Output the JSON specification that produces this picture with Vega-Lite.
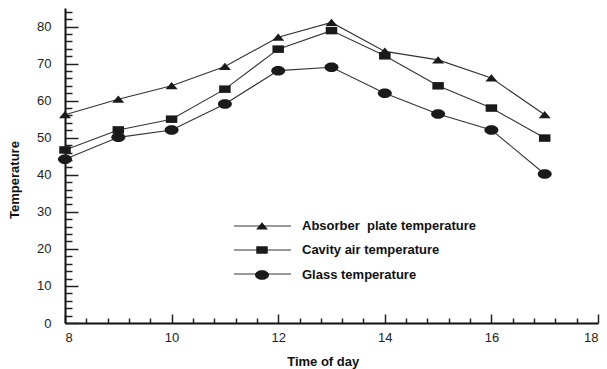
{
  "$schema": "https://vega.github.io/schema/vega-lite/v6.json",
  "width": 533,
  "height": 315,
  "autosize": "none",
  "padding": {"left": 65, "top": 8, "right": 9, "bottom": 46},
  "background": "white",
  "config": {
    "view": {"stroke": null},
    "font": "Liberation Sans",
    "axis": {"grid": false, "domainColor": "#111", "domainWidth": 2, "tickColor": "#222", "tickWidth": 1.5, "labelFont": "Liberation Sans", "labelFontSize": 13, "labelColor": "#222", "titleFont": "Liberation Sans", "titleFontSize": 13, "titleFontWeight": "bold", "titleColor": "#111"}
  },
  "data": {
    "values": [
      {"time": 8, "series": "Absorber\u00a0 plate temperature", "temp": 56.2},
      {"time": 9, "series": "Absorber\u00a0 plate temperature", "temp": 60.4},
      {"time": 10, "series": "Absorber\u00a0 plate temperature", "temp": 64},
      {"time": 11, "series": "Absorber\u00a0 plate temperature", "temp": 69.2},
      {"time": 12, "series": "Absorber\u00a0 plate temperature", "temp": 77.1},
      {"time": 13, "series": "Absorber\u00a0 plate temperature", "temp": 81.1},
      {"time": 14, "series": "Absorber\u00a0 plate temperature", "temp": 73.3},
      {"time": 15, "series": "Absorber\u00a0 plate temperature", "temp": 71},
      {"time": 16, "series": "Absorber\u00a0 plate temperature", "temp": 66.1},
      {"time": 17, "series": "Absorber\u00a0 plate temperature", "temp": 56.2},
      {"time": 8, "series": "Cavity air temperature", "temp": 46.7},
      {"time": 9, "series": "Cavity air temperature", "temp": 52.1},
      {"time": 10, "series": "Cavity air temperature", "temp": 55},
      {"time": 11, "series": "Cavity air temperature", "temp": 63.1},
      {"time": 12, "series": "Cavity air temperature", "temp": 73.9},
      {"time": 13, "series": "Cavity air temperature", "temp": 78.9},
      {"time": 14, "series": "Cavity air temperature", "temp": 72.1},
      {"time": 15, "series": "Cavity air temperature", "temp": 64},
      {"time": 16, "series": "Cavity air temperature", "temp": 58},
      {"time": 17, "series": "Cavity air temperature", "temp": 49.9},
      {"time": 8, "series": "Glass temperature", "temp": 44.2},
      {"time": 9, "series": "Glass temperature", "temp": 50.1},
      {"time": 10, "series": "Glass temperature", "temp": 52.1},
      {"time": 11, "series": "Glass temperature", "temp": 59.1},
      {"time": 12, "series": "Glass temperature", "temp": 68.1},
      {"time": 13, "series": "Glass temperature", "temp": 69},
      {"time": 14, "series": "Glass temperature", "temp": 62},
      {"time": 15, "series": "Glass temperature", "temp": 56.4},
      {"time": 16, "series": "Glass temperature", "temp": 52.1},
      {"time": 17, "series": "Glass temperature", "temp": 40.2}
    ]
  },
  "layer": [
    {
      "mark": {"type": "line", "strokeWidth": 1.1},
      "encoding": {
        "x": {"field": "time", "type": "quantitative", "scale": {"domain": [8, 18], "nice": false, "zero": false},
          "axis": {"orient": "top", "offset": -315, "values": [8, 10, 12, 14, 16, 18], "format": "d", "title": "Time of day", "tickSize": 9, "labelPadding": -23.7, "labelBaseline": "middle", "titleX": 257.7, "titleY": 38.4, "titleBaseline": "middle", "titleAlign": "center"}},
        "y": {"field": "temp", "type": "quantitative", "scale": {"domain": [0, 85], "nice": false},
          "axis": {"orient": "right", "offset": -533, "values": [0, 10, 20, 30, 40, 50, 60, 70, 80], "format": "d", "title": "Temperature", "tickSize": 13, "labelPadding": -27, "labelAlign": "right", "labelBaseline": "middle", "titleX": -50.5, "titleY": 171.5, "titleAngle": -90, "titleBaseline": "middle", "titleAlign": "center"}},
        "color": {
          "field": "series", "type": "nominal",
          "scale": {"range": ["#333333", "#333333", "#333333"]},
          "legend": {
            "title": null,
            "orient": "none",
            "legendX": 190.5,
            "legendY": 211.5,
            "padding": 0,
            "rowPadding": 10,
            "symbolType": "M-5.6,0H5.8",
            "symbolSize": 100,
            "symbolStrokeWidth": 1,
            "symbolStrokeColor": "#555555",
            "labelOffset": 33.5,
            "labelFont": "Liberation Sans",
            "labelFontSize": 13,
            "labelFontWeight": "bold",
            "labelOpacity": 0,
            "labelLimit": 400
          }
        }
      }
    },
    {
      "mark": {"type": "point", "filled": true, "fill": "#1a1a1a", "opacity": 1, "size": 100, "strokeWidth": 0},
      "encoding": {
        "x": {"field": "time", "type": "quantitative",
          "axis": {"orient": "top", "offset": -315, "values": [8.4, 8.8, 9.2, 9.6, 10.4, 10.8, 11.2, 11.6, 12.4, 12.8, 13.2, 13.6, 14.4, 14.8, 15.2, 15.6, 16.4, 16.8, 17.2, 17.6], "labels": false, "domain": false, "title": null, "tickSize": 5}},
        "y": {"field": "temp", "type": "quantitative",
          "axis": {"orient": "right", "offset": -533, "values": [2, 4, 6, 8, 12, 14, 16, 18, 22, 24, 26, 28, 32, 34, 36, 38, 42, 44, 46, 48, 52, 54, 56, 58, 62, 64, 66, 68, 72, 74, 76, 78, 82, 84], "labels": false, "domain": false, "title": null, "tickSize": 7}},
        "shape": {
          "field": "series", "type": "nominal",
          "scale": {
            "domain": ["Absorber\u00a0 plate temperature", "Cavity air temperature", "Glass temperature"],
            "range": [
              "M-1.2,0.7L1.2,0.7L0,-0.75Z",
              "M-1.15,-0.75H1.15V0.75H-1.15Z",
              "M-1.4,0C-1.4,-0.525 -0.773,-0.95 0,-0.95C0.773,-0.95 1.4,-0.525 1.4,0C1.4,0.525 0.773,0.95 0,0.95C-0.773,0.95 -1.4,0.525 -1.4,0Z"
            ]
          },
          "legend": {
            "title": null,
            "orient": "none",
            "legendX": 190.5,
            "legendY": 211.5,
            "padding": 0,
            "rowPadding": 10,
            "symbolSize": 100,
            "symbolStrokeWidth": 1,
            "labelOffset": 33.5,
            "labelFont": "Liberation Sans",
            "labelFontSize": 13,
            "labelFontWeight": "bold",
            "labelColor": "#111",
            "labelLimit": 400
          }
        }
      }
    }
  ],
  "resolve": {"axis": {"x": "independent", "y": "independent"}}
}
